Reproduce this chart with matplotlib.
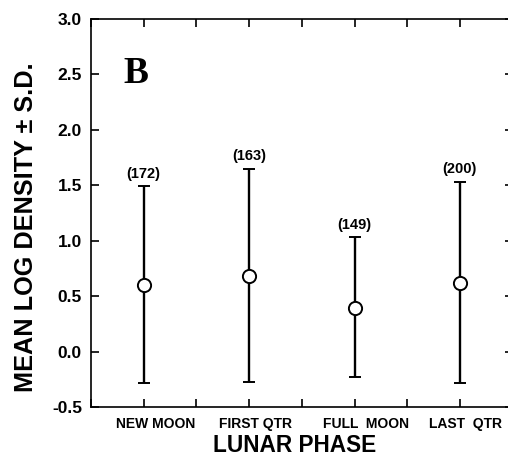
import matplotlib
matplotlib.use("Agg")
import matplotlib.pyplot as plt
import matplotlib.transforms as mtransforms
from matplotlib.ticker import MultipleLocator, FixedLocator

plt.rcParams['font.family'] = ['Liberation Sans', 'DejaVu Sans']

phases = ['NEW MOON', 'FIRST QTR', 'FULL  MOON', 'LAST  QTR']
xpos = [1, 2, 3, 4]
means = [0.60, 0.68, 0.39, 0.62]
upper = [1.49, 1.65, 1.03, 1.53]
lower = [-0.28, -0.27, -0.23, -0.28]
counts = [172, 163, 149, 200]
yticks = [-0.5, 0.0, 0.5, 1.0, 1.5, 2.0, 2.5, 3.0]

W, H = 508, 457
fig = plt.figure(figsize=(W / 100, H / 100), dpi=100)
ax = fig.add_axes([91 / W, 1 - 407 / H, (512.6 - 91) / W, (407 - 19) / H])

err_lo = [m - l for m, l in zip(means, lower)]
err_hi = [u - m for u, m in zip(upper, means)]
ax.errorbar(xpos, means, yerr=[err_lo, err_hi], fmt='o', ms=9.5, mfc='white',
            mec='black', mew=1.4, ecolor='black', elinewidth=1.7,
            capsize=4.5, capthick=1.7, zorder=3)

for x, u, n in zip(xpos, upper, counts):
    ax.annotate(f'({n})', xy=(x, u), xytext=(0, 4), textcoords='offset points',
                ha='center', va='bottom', fontsize=10.5, fontweight='bold')

ax.text(0.804, 2.42, 'B', fontsize=27, fontweight='bold', family='Liberation Serif',
        ha='left', va='baseline')

ax.set_xlim(0.5, 4.5)
ax.set_ylim(-0.5, 3.0)
ax.xaxis.set_major_locator(FixedLocator(xpos))
ax.xaxis.set_minor_locator(MultipleLocator(0.5))
ax.set_xticklabels(phases)
ax.set_yticks(yticks)
ax.set_yticklabels([f'{v:.1f}' for v in yticks])

ax.tick_params(axis='both', which='both', direction='in', length=6, width=1.2,
               top=True, right=True)
ax.tick_params(axis='y', which='major', labelsize=12.5, pad=6.5)
ax.tick_params(axis='x', which='major', labelsize=10, pad=7)
for lab in ax.get_xticklabels() + ax.get_yticklabels():
    lab.set_fontweight('bold')

# slight rightward shift of category labels as typeset in the original
shifts = [12, 6, 11, 6]
for lab, dx in zip(ax.get_xticklabels(), shifts):
    lab.set_transform(lab.get_transform() +
                      mtransforms.ScaledTranslation(dx / 100, 0, fig.dpi_scale_trans))

for s in ax.spines.values():
    s.set_linewidth(1.2)

ax.set_xlabel('LUNAR PHASE', fontsize=16.3, fontweight='bold')
ax.xaxis.set_label_coords((295 - 91) / (512.6 - 91), -(445 - 407) / 388)
ax.xaxis.label.set_va('center')
ax.set_ylabel('MEAN LOG DENSITY \u00b1 S.D.', fontsize=18.2, fontweight='bold')
ax.yaxis.set_label_coords(-(91 - 26) / (512.6 - 91), (407 - 227) / 388)
ax.yaxis.label.set_va('center')

fig.savefig('out.png', dpi=100)
